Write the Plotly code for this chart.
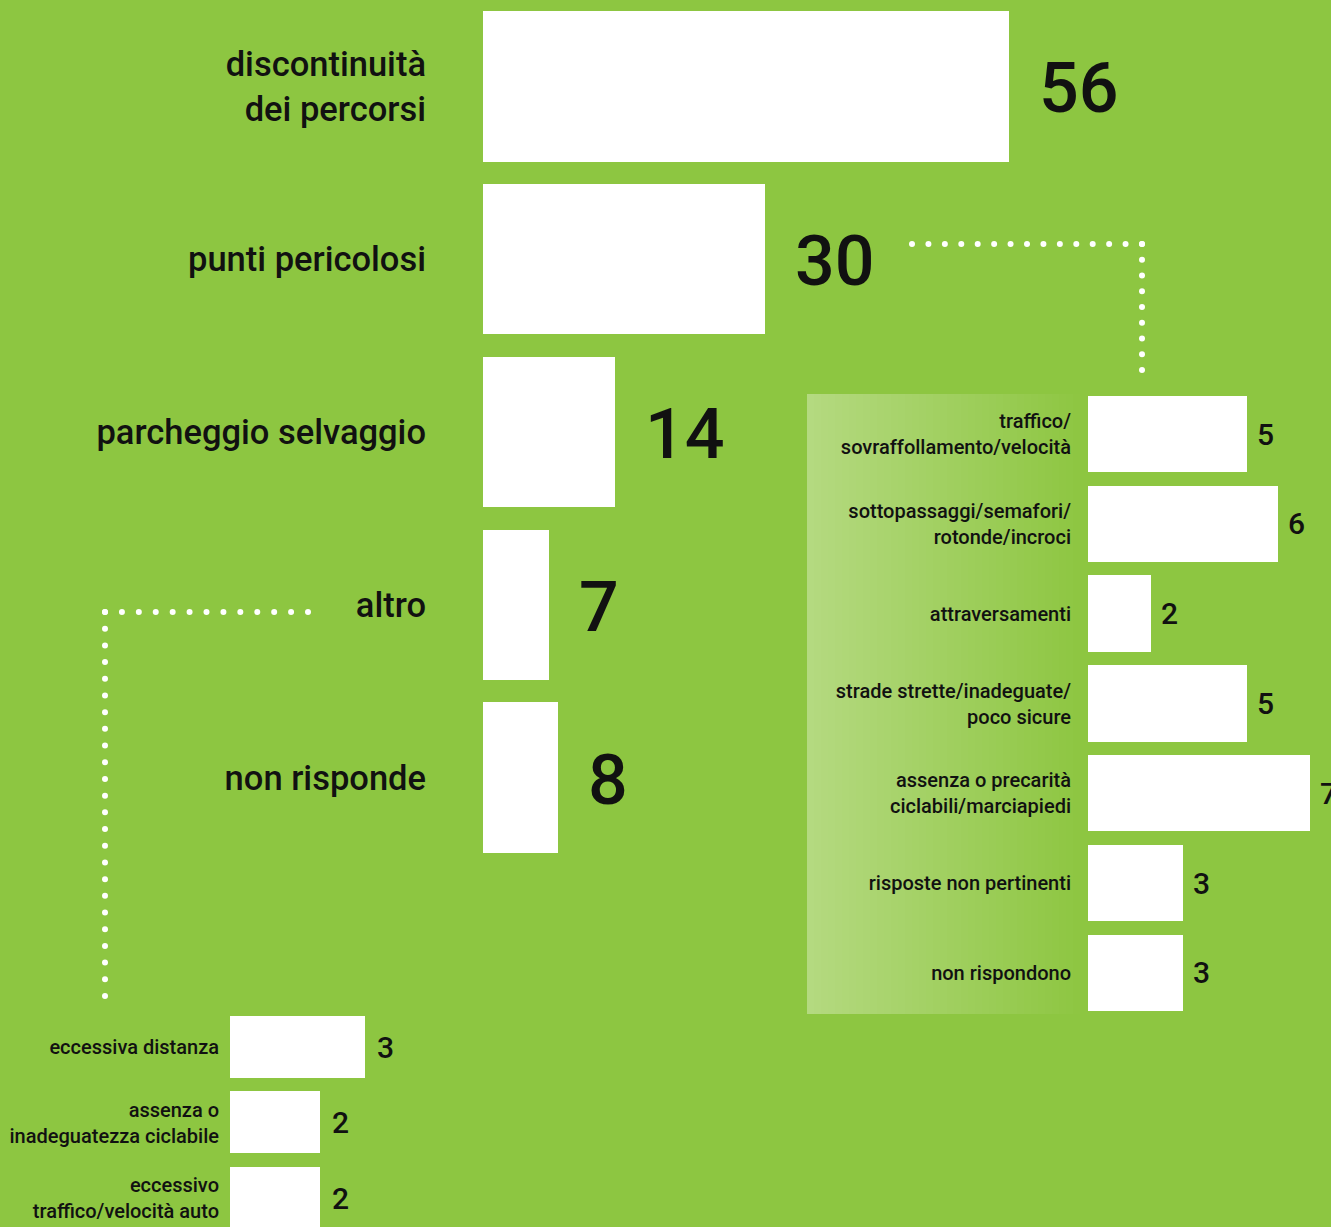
import numpy as np
import plotly.graph_objects as go

W, H = 1331, 1227
BG = '#8dc641'
INK = '#111111'
FONT = 'Roboto'

# main question
main_labels = ['discontinuità<br>dei percorsi', 'punti pericolosi', 'parcheggio selvaggio', 'altro', 'non risponde']
main_values = [56, 30, 14, 7, 8]

# detail of "punti pericolosi"
risk_labels = ['traffico/<br>sovraffollamento/velocità', 'sottopassaggi/semafori/<br>rotonde/incroci',
               'attraversamenti', 'strade strette/inadeguate/<br>poco sicure',
               'assenza o precarità<br>ciclabili/marciapiedi', 'risposte non pertinenti', 'non rispondono']
risk_values = [5, 6, 2, 5, 7, 3, 3]

# detail of "altro"
other_labels = ['eccessiva distanza', 'assenza o<br>inadeguatezza ciclabile', 'eccessivo<br>traffico/velocità auto']
other_values = [3, 2, 2]


def fx(px):
    return px / W


def fy(py):
    return 1 - py / H


fig = go.Figure()

# background panel with a soft left-to-right gradient
n_strips = 40
edges = np.linspace(807, 1087, n_strips + 1)
c0 = np.array([180, 218, 128])
c1 = np.array([141, 198, 65])
shapes = []
for i in range(n_strips):
    t = i / (n_strips - 1)
    c = (c0 + (c1 - c0) * t).astype(int)
    shapes.append(dict(type='rect', xref='paper', yref='paper', x0=fx(edges[i]), x1=fx(edges[i + 1] + 0.5),
                       y0=fy(1014), y1=fy(394), line=dict(width=0),
                       fillcolor='rgb(%d,%d,%d)' % tuple(c), layer='below'))


# dotted connectors
def dots(p0, p1, step=16.5):
    n = max(int(round(np.hypot(p1[0] - p0[0], p1[1] - p0[1]) / step)), 1)
    return np.linspace(p0[0], p1[0], n + 1), np.linspace(p0[1], p1[1], n + 1)


dx, dy = [], []
for seg in [((912, 244), (1142, 244)), ((1142, 244), (1142, 370)),
            ((308, 612), (105, 612)), ((105, 612), (105, 996))]:
    a, b = dots(*seg)
    dx += list(a)
    dy += list(b)
fig.add_trace(go.Scatter(x=dx, y=dy, mode='markers', xaxis='x4', yaxis='y4',
                         marker=dict(color='white', size=6, line=dict(width=0)),
                         hoverinfo='skip', showlegend=False))

bar_style = dict(orientation='h', marker=dict(color='white', line=dict(width=0)),
                 showlegend=False, hoverinfo='x')
fig.add_trace(go.Bar(x=main_values, y=list(range(len(main_values))), width=0.87,
                     xaxis='x', yaxis='y', **bar_style))
fig.add_trace(go.Bar(x=risk_values, y=list(range(len(risk_values))), width=0.85,
                     xaxis='x2', yaxis='y2', **bar_style))
fig.add_trace(go.Bar(x=other_values, y=list(range(len(other_values))), width=0.82,
                     xaxis='x3', yaxis='y3', **bar_style))

annotations = []
for i, v in enumerate(main_values):
    annotations.append(dict(x=v, y=i, xref='x', yref='y', text=str(v), showarrow=False,
                            xanchor='left', xshift=28, yshift=-2,
                            font=dict(family=FONT, size=70, color=INK, weight=500)))
for i, v in enumerate(risk_values):
    annotations.append(dict(x=v, y=i, xref='x2', yref='y2', text=str(v), showarrow=False,
                            xanchor='left', xshift=8,
                            font=dict(family=FONT, size=30, color=INK, weight=500)))
for i, v in enumerate(other_values):
    annotations.append(dict(x=v, y=i, xref='x3', yref='y3', text=str(v), showarrow=False,
                            xanchor='left', xshift=10,
                            font=dict(family=FONT, size=30, color=INK, weight=500)))

hidden_x = dict(showgrid=False, zeroline=False, showticklabels=False, showline=False, fixedrange=True)


def cat_axis(labels, size, standoff, rng, domain, anchor):
    return dict(domain=domain, range=rng, anchor=anchor, tickvals=list(range(len(labels))), ticktext=labels,
                showgrid=False, zeroline=False, showline=False, ticks='',
                ticklabelstandoff=standoff, fixedrange=True,
                tickfont=dict(family=FONT, size=size, color=INK, weight=500))


fig.update_layout(
    width=W, height=H,
    margin=dict(l=0, r=0, t=0, b=0),
    paper_bgcolor=BG, plot_bgcolor='rgba(0,0,0,0)',
    shapes=shapes, annotations=annotations,
    bargap=0,
    xaxis=dict(domain=[fx(483), 1], range=[0, 848 / 9.4], anchor='y', **hidden_x),
    yaxis=cat_axis(main_labels, 34.5, 56, [4.5, -0.5], [fy(864), 1], 'x'),
    xaxis2=dict(domain=[fx(1088), 1], range=[0, 243 / 31.7], anchor='y2', **hidden_x),
    yaxis2=cat_axis(risk_labels, 20, 16, [6.5, -0.5], [fy(1017.9), fy(389.1)], 'x2'),
    xaxis3=dict(domain=[fx(230), fx(760)], range=[0, 530 / 45.0], anchor='y3', **hidden_x),
    yaxis3=cat_axis(other_labels, 20, 10, [2.384, -0.5], [0, fy(1009.25)], 'x3'),
    xaxis4=dict(domain=[0, 1], range=[0, W], anchor='y4', **hidden_x),
    yaxis4=dict(domain=[0, 1], range=[H, 0], anchor='x4', **hidden_x),
)

fig.write_html('out.html', config={'displayModeBar': False},
               post_script="document.body.style.margin='0';")
